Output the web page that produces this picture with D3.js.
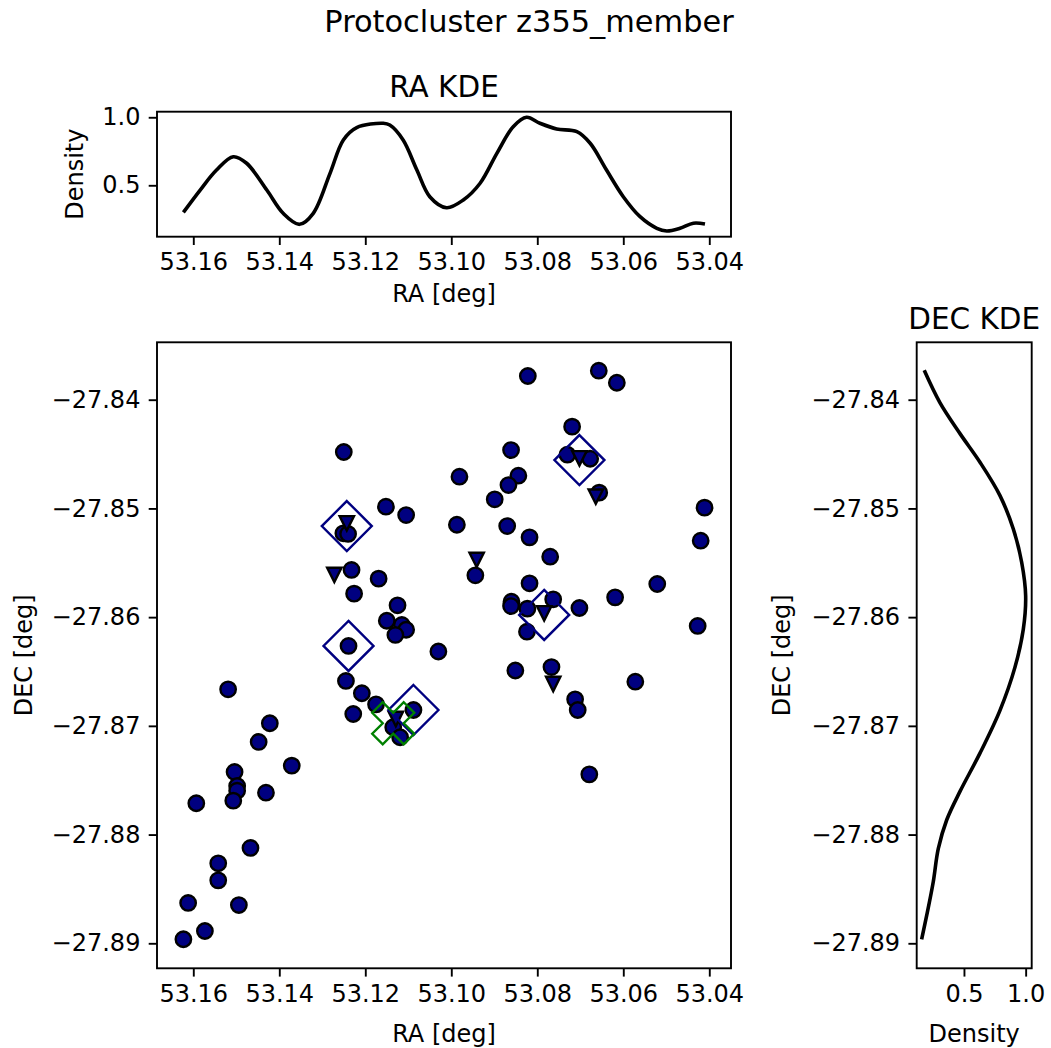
<!DOCTYPE html>
<html>
<head>
<meta charset="utf-8">
<script src="https://cdn.jsdelivr.net/npm/d3@7"></script>
<style>
  body { margin: 0; background: #fff; }
  text { font-family: "DejaVu Sans", sans-serif; }
</style>
</head>
<body>
<div id="chart"></div>
<script>
// member positions (circles)
var memberRA = [53.1250, 53.1251, 53.1240, 53.1152, 53.1105, 53.1232, 53.1169, 53.1226, 53.1125, 53.1150,
  53.1115, 53.1105, 53.1130, 53.1239, 53.0822, 53.0657, 53.0615, 53.0719, 53.0730, 53.0677,
  53.0656, 53.0861, 53.0981, 53.0844, 53.0867, 53.0899, 53.0411, 53.0987, 53.0870, 53.0818,
  53.0420, 53.0770, 53.0944, 53.0818, 53.0521, 53.0619, 53.0860, 53.0861, 53.0823, 53.0763,
  53.0824, 53.0702, 53.0427, 53.1030, 53.0851, 53.0767, 53.0572, 53.0712, 53.0706, 53.0679,
  53.1088, 53.1245, 53.1208, 53.1175, 53.1228, 53.1135, 53.1119, 53.1519, 53.1422, 53.1448,
  53.1371, 53.1504, 53.1498, 53.1498, 53.1507, 53.1431, 53.1593, 53.1467, 53.1542, 53.1542,
  53.1612, 53.1494, 53.1573, 53.1623];
var memberDEC = [-27.84481, -27.85229, -27.85235, -27.84984, -27.85061, -27.85566, -27.85646, -27.85784, -27.85891, -27.86033,
  -27.86072, -27.86116, -27.86164, -27.86265, -27.83782, -27.83733, -27.83844, -27.84248, -27.84506, -27.84543,
  -27.84855, -27.84463, -27.84708, -27.84699, -27.84785, -27.84916, -27.84993, -27.85150, -27.85162, -27.85266,
  -27.85297, -27.85444, -27.85615, -27.85689, -27.85695, -27.85818, -27.85858, -27.85898, -27.85922, -27.85836,
  -27.86134, -27.85916, -27.86081, -27.86316, -27.86491, -27.86459, -27.86594, -27.86756, -27.86854, -27.87446,
  -27.86854, -27.86587, -27.86700, -27.86802, -27.86891, -27.87013, -27.87105, -27.86664, -27.86976, -27.87148,
  -27.87366, -27.87424, -27.87553, -27.87596, -27.87688, -27.87615, -27.87712, -27.88123, -27.88264, -27.88421,
  -27.88629, -27.88648, -27.88887, -27.88963];

// triangle markers
var triRA = [53.1243, 53.1272, 53.0702, 53.0664, 53.0941, 53.0784, 53.0763, 53.1129];
var triDEC = [-27.85137, -27.85612, -27.84539, -27.84892, -27.85474, -27.85965, -27.86615, -27.86937];

// open diamonds
var diaRA = [53.1243, 53.1239, 53.0702, 53.0784, 53.1088];
var diaDEC = [-27.85162, -27.86265, -27.84555, -27.85980, -27.86854];

// green X
var xRA = [53.1135];
var xDEC = [-27.86976];

// RA KDE
var kdeRA = [53.1623, 53.1584, 53.1546, 53.1507, 53.1476, 53.1429, 53.1391, 53.1353, 53.1321, 53.1282,
  53.1251, 53.1220, 53.1158, 53.1143, 53.1112, 53.1080, 53.1050, 53.1011, 53.0972, 53.0933,
  53.0894, 53.0856, 53.0825, 53.0794, 53.0755, 53.0708, 53.0677, 53.0639, 53.0600, 53.0561,
  53.0522, 53.0499, 53.0468, 53.0437, 53.0410];
var kdeRAdens = [0.301, 0.465, 0.612, 0.710, 0.662, 0.465, 0.294, 0.213, 0.294, 0.588,
  0.833, 0.924, 0.956, 0.943, 0.833, 0.612, 0.416, 0.335, 0.392, 0.515,
  0.735, 0.931, 1.0, 0.956, 0.914, 0.894, 0.809, 0.612, 0.416, 0.269,
  0.184, 0.164, 0.184, 0.221, 0.215];

// DEC KDE
var kdeDEC = [-27.8373, -27.84027, -27.84312, -27.84575, -27.84882, -27.85189, -27.85497, -27.85804, -27.86111,
  -27.86462, -27.86857, -27.87251, -27.87603, -27.87866, -27.8813, -27.88436, -27.88744, -27.88963];
var kdeDECdens = [0.178, 0.305, 0.468, 0.630, 0.792, 0.900, 0.968, 1.0, 0.981,
  0.913, 0.792, 0.630, 0.468, 0.360, 0.292, 0.251, 0.198, 0.157];

var raTicks = [53.16, 53.14, 53.12, 53.10, 53.08, 53.06, 53.04];
var decTicks = [-27.84, -27.85, -27.86, -27.87, -27.88, -27.89];
var densTicks = [0.5, 1.0];

var svgWidth = 1051, svgHeight = 1048;
var svg = d3.select("#chart").append("svg")
  .attr("width", svgWidth)
  .attr("height", svgHeight);

var navy = "#000080";
var tickLen = 8.3, lw = 1.9;

// panels
var mainP = {left: 157, right: 731, top: 342.3, bottom: 968.3};
var topP = {left: 157, right: 731, top: 111.7, bottom: 236.7};
var sideP = {left: 916.7, right: 1031.7, top: 342.3, bottom: 968.3};

var xScale = d3.scaleLinear().domain([53.16844, 53.03495]).range([mainP.left, mainP.right]);
var yScale = d3.scaleLinear().domain([-27.83472, -27.8923]).range([mainP.top, mainP.bottom]);
var yTop = d3.scaleLinear().domain([0.122, 1.041]).range([topP.bottom, topP.top]);
var xSide = d3.scaleLinear().domain([0.117, 1.049]).range([sideP.left, sideP.right]);

function styleAxis(g) {
  g.select(".domain").remove();
  g.selectAll(".tick line").attr("stroke", "#000").attr("stroke-width", lw);
  g.selectAll(".tick text")
    .attr("fill", "#000")
    .style("font-family", "'DejaVu Sans', sans-serif")
    .style("font-size", "24px");
}

function frame(p) {
  svg.append("rect")
    .attr("x", p.left).attr("y", p.top)
    .attr("width", p.right - p.left).attr("height", p.bottom - p.top)
    .attr("fill", "none").attr("stroke", "#000").attr("stroke-width", lw);
}

function label(txt, x, y, size, rotate) {
  var t = svg.append("text")
    .attr("text-anchor", "middle")
    .attr("font-size", size + "px")
    .attr("fill", "#000")
    .text(txt);
  if (rotate) t.attr("transform", `translate(${x},${y}) rotate(-90)`);
  else t.attr("x", x).attr("y", y);
}

var fmt2 = d3.format(".2f"), fmt1 = d3.format(".1f");

// ---------- top RA KDE ----------
svg.append("g").attr("transform", `translate(0,${topP.bottom})`)
  .call(d3.axisBottom(xScale).tickValues(raTicks).tickFormat(fmt2).tickSize(tickLen).tickPadding(tickLen))
  .call(styleAxis);
svg.append("g").attr("transform", `translate(${topP.left},0)`)
  .call(d3.axisLeft(yTop).tickValues(densTicks).tickFormat(fmt1).tickSize(tickLen).tickPadding(tickLen))
  .call(styleAxis);

var raLine = d3.line()
  .x(function(d, i) { return xScale(kdeRA[i]); })
  .y(function(d) { return yTop(d); })
  .curve(d3.curveCatmullRom);
svg.append("path").datum(kdeRAdens)
  .attr("d", raLine)
  .attr("fill", "none").attr("stroke", "#000").attr("stroke-width", 3.6);
frame(topP);

label("RA KDE", (topP.left + topP.right) / 2, 96.7, 29.5);
label("RA [deg]", (topP.left + topP.right) / 2, 301.5, 24);
label("Density", 83, (topP.top + topP.bottom) / 2, 24, true);

// ---------- main scatter ----------
svg.append("g").attr("transform", `translate(0,${mainP.bottom})`)
  .call(d3.axisBottom(xScale).tickValues(raTicks).tickFormat(fmt2).tickSize(tickLen).tickPadding(tickLen))
  .call(styleAxis);
svg.append("g").attr("transform", `translate(${mainP.left},0)`)
  .call(d3.axisLeft(yScale).tickValues(decTicks).tickFormat(fmt2).tickSize(tickLen).tickPadding(tickLen))
  .call(styleAxis);

var plot = svg.append("g");

plot.selectAll("circle.member")
  .data(memberRA)
  .enter()
  .append("circle")
  .attr("class", "member")
  .attr("cx", function(d) { return xScale(d); })
  .attr("cy", function(d, i) { return yScale(memberDEC[i]); })
  .attr("r", 7.7)
  .attr("fill", navy)
  .attr("stroke", "#000")
  .attr("stroke-width", 2.4);

plot.selectAll("path.tri")
  .data(triRA)
  .enter()
  .append("path")
  .attr("class", "tri")
  .attr("d", "M-7.2,-7.2L7.2,-7.2L0,7.2Z")
  .attr("transform", function(d, i) { return `translate(${xScale(d)},${yScale(triDEC[i])})`; })
  .attr("fill", navy)
  .attr("stroke", "#000")
  .attr("stroke-width", 2.4)
  .attr("stroke-linejoin", "miter");

plot.selectAll("path.dia")
  .data(diaRA)
  .enter()
  .append("path")
  .attr("class", "dia")
  .attr("d", "M0,-25L25,0L0,25L-25,0Z")
  .attr("transform", function(d, i) { return `translate(${xScale(d)},${yScale(diaDEC[i])})`; })
  .attr("fill", "none")
  .attr("stroke", navy)
  .attr("stroke-width", 2.4);

// filled-X marker outline (plus rotated 45deg)
var s = 44.6 / 6;
var plusPts = [[-1, -3], [1, -3], [1, -1], [3, -1], [3, 1], [1, 1], [1, 3], [-1, 3], [-1, 1], [-3, 1], [-3, -1], [-1, -1]];
var xPath = "M" + plusPts.map(function(p) { return [p[0] * s, p[1] * s].join(","); }).join("L") + "Z";
plot.selectAll("path.xmark")
  .data(xRA)
  .enter()
  .append("path")
  .attr("class", "xmark")
  .attr("d", xPath)
  .attr("transform", function(d, i) { return `translate(${xScale(d)},${yScale(xDEC[i])}) rotate(45)`; })
  .attr("fill", "none")
  .attr("stroke", "green")
  .attr("stroke-width", 2.4);

frame(mainP);
label("RA [deg]", (mainP.left + mainP.right) / 2, 1041.5, 24);
label("DEC [deg]", 31.5, (mainP.top + mainP.bottom) / 2, 24, true);

// ---------- side DEC KDE ----------
svg.append("g").attr("transform", `translate(0,${sideP.bottom})`)
  .call(d3.axisBottom(xSide).tickValues(densTicks).tickFormat(fmt1).tickSize(tickLen).tickPadding(tickLen))
  .call(styleAxis);
svg.append("g").attr("transform", `translate(${sideP.left},0)`)
  .call(d3.axisLeft(yScale).tickValues(decTicks).tickFormat(fmt2).tickSize(tickLen).tickPadding(tickLen))
  .call(styleAxis);

var decLine = d3.line()
  .x(function(d) { return xSide(d); })
  .y(function(d, i) { return yScale(kdeDEC[i]); })
  .curve(d3.curveCatmullRom);
svg.append("path").datum(kdeDECdens)
  .attr("d", decLine)
  .attr("fill", "none").attr("stroke", "#000").attr("stroke-width", 3.6);
frame(sideP);

label("DEC KDE", (sideP.left + sideP.right) / 2, 328.5, 29.5);
label("Density", (sideP.left + sideP.right) / 2, 1041.5, 24);
label("DEC [deg]", 789.5, (sideP.top + sideP.bottom) / 2, 24, true);

// figure title
label("Protocluster z355_member", 529, 31.5, 30.4);
</script>
</body>
</html>
